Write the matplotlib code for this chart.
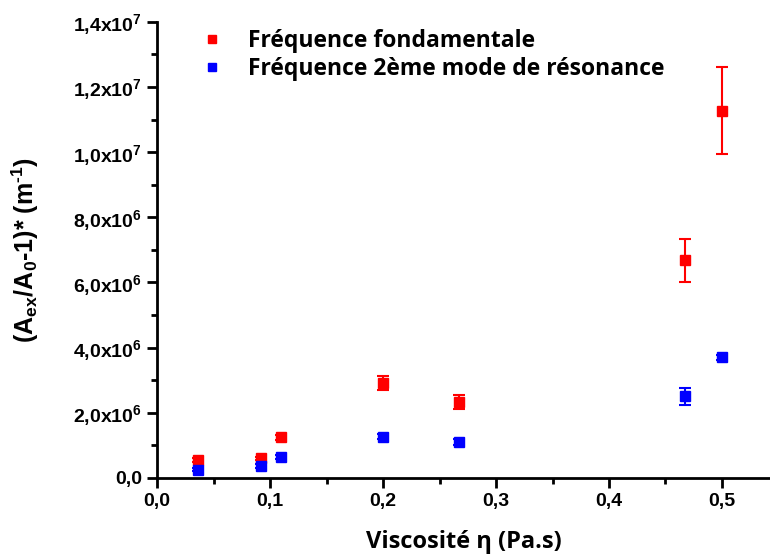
import matplotlib
matplotlib.use('Agg')
import matplotlib.pyplot as plt
from matplotlib.lines import Line2D
from matplotlib.ticker import MultipleLocator, FuncFormatter

plt.rcParams['mathtext.fontset'] = 'custom'
plt.rcParams['mathtext.rm'] = 'Liberation Sans:bold'
plt.rcParams['mathtext.bf'] = 'Liberation Sans:bold'
plt.rcParams['mathtext.it'] = 'Liberation Sans:bold'
plt.rcParams['font.family'] = 'Liberation Sans'
plt.rcParams['font.weight'] = 'bold'

visc = [0.036, 0.092, 0.110, 0.200, 0.267, 0.467, 0.500]

fond = [0.55e6, 0.60e6, 1.25e6, 2.91e6, 2.34e6, 6.68e6, 11.27e6]
fond_err = [0.06e6, 0.05e6, 0.08e6, 0.22e6, 0.22e6, 0.66e6, 1.33e6]

mode2 = [0.25e6, 0.37e6, 0.63e6, 1.27e6, 1.10e6, 2.50e6, 3.70e6]
mode2_err = [0.05e6, 0.05e6, 0.06e6, 0.08e6, 0.08e6, 0.25e6, 0.08e6]

labels = ['Fréquence fondamentale', 'Fréquence 2ème mode de résonance']
colors = ['#ff0000', '#0000ff']


def ytick_fmt(v, pos):
    if v == 0:
        return '0,0'
    exp = len(str(int(v))) - 1
    mant = v / 10 ** exp
    return r'$%d{,}%dx10^{%d}$' % (int(mant), int(round(mant * 10)) % 10, exp)


def xtick_fmt(v, pos):
    return ('%.1f' % v).replace('.', ',')


fig = plt.figure(figsize=(7.7, 5.59), dpi=100)
ax = fig.add_axes([0.204, 0.145, 0.796, 0.816])

for ys, es, c in [(fond, fond_err, colors[0]), (mode2, mode2_err, colors[1])]:
    ax.errorbar(visc, ys, yerr=es, fmt='s', color=c, ms=7,
                elinewidth=1.5, capsize=4, capthick=1.5,
                clip_on=False, zorder=3)

ax.set_xlim(0, 0.5425)
ax.set_ylim(0, 1.4e7)

ax.xaxis.set_major_locator(MultipleLocator(0.1))
ax.xaxis.set_minor_locator(MultipleLocator(0.05))
ax.yaxis.set_major_locator(MultipleLocator(2e6))
ax.yaxis.set_minor_locator(MultipleLocator(1e6))
ax.xaxis.set_major_formatter(FuncFormatter(xtick_fmt))
ax.yaxis.set_major_formatter(FuncFormatter(ytick_fmt))

for s in ['top', 'right']:
    ax.spines[s].set_visible(False)
for s in ['left', 'bottom']:
    ax.spines[s].set_linewidth(2)

ax.tick_params(which='major', length=7, width=2, labelsize=14, pad=4)
ax.tick_params(which='minor', length=4, width=2)
for lab in ax.get_xticklabels() + ax.get_yticklabels():
    lab.set_fontweight('bold')

ax.set_xlabel('Viscosité η (Pa.s)', fontsize=17, fontweight='bold',
              family=['Open Sans', 'DejaVu Sans'])
ax.xaxis.set_label_coords(0.5, -0.115)
ylab = (r'(A$_{\mathregular{ex}}$/A$_{\mathregular{0}}$-1)* (m$^{\mathregular{'
        + '\u2010' + r'1}}$)')
ax.set_ylabel(ylab, fontsize=18, fontweight='bold')
ax.yaxis.set_label_coords(-0.19, 0.5)

handles = [Line2D([], [], ls='none', marker='s', ms=6, color=c) for c in colors]
ax.legend(handles, labels, loc='upper left', bbox_to_anchor=(0.033, 1.03),
          frameon=False,
          prop={'family': 'Open Sans', 'weight': 'bold', 'size': 16.5},
          handletextpad=1.0, labelspacing=0.2, handlelength=1.2)

fig.savefig('out.png', dpi=100)
